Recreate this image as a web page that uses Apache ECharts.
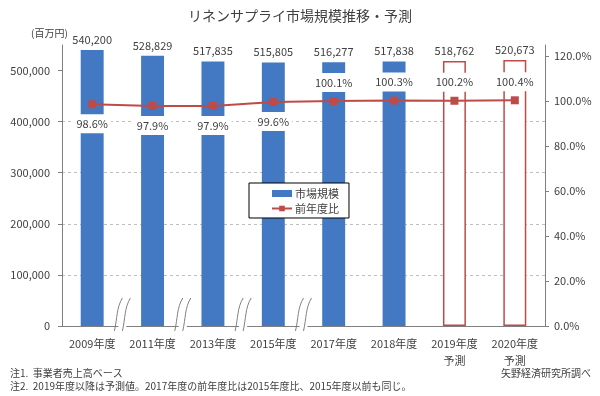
<!DOCTYPE html>
<html>
<head>
<meta charset="utf-8">
<script src="https://cdn.jsdelivr.net/npm/echarts@6/dist/echarts.min.js"></script>
<style>
  html, body { margin: 0; padding: 0; background: #fff; }
  #main { width: 600px; height: 396px; }
</style>
</head>
<body>
<div id="main"></div>
<script>
// 年度
var categories = ['2009年度', '2011年度', '2013年度', '2015年度', '2017年度', '2018年度', '2019年度\n予測', '2020年度\n予測'];
// 市場規模（百万円）
var marketSize = [540200, 528829, 517835, 515805, 516277, 517838, 518762, 520673];
// 前年度比（%）
var yoyRatio = [98.6, 97.9, 97.9, 99.6, 100.1, 100.3, 100.2, 100.4];
var forecastStart = 6;            // 2019年度以降は予測値
var breakAfter = [0, 1, 2, 3];    // 省略記号を入れる位置
var leftTicks = [0, 100000, 200000, 300000, 400000, 500000];
var rightTicks = [0, 20, 40, 60, 80, 100, 120];

var blue = '#4279c2';
var red = '#be4b48';
var txt = '#404040';
var font = '"Noto Sans CJK JP", "Noto Sans", sans-serif';

var myChart = echarts.init(document.getElementById('main'));

myChart.setOption({
    animation: false,
    textStyle: { fontFamily: font },
    title: {
        text: 'リネンサプライ市場規模推移・予測',
        left: 'center',
        top: 4,
        textStyle: { fontSize: 14, fontWeight: 'normal', color: txt, fontFamily: font }
    },
    legend: {
        orient: 'vertical',
        left: 249,
        top: 183,
        width: 97,
        padding: [5, 10, 4, 22],
        itemGap: 4,
        itemWidth: 20,
        itemHeight: 7,
        borderColor: '#000',
        borderWidth: 1,
        backgroundColor: '#fff',
        textStyle: { fontSize: 11, color: txt, padding: [0, 0, 0, -2] },
        data: [
            { name: '市場規模', icon: 'rect' },
            { name: '前年度比' }
        ]
    },
    grid: { left: 62, right: 55, top: 45, bottom: 70 },
    xAxis: {
        type: 'category',
        data: categories,
        axisLine: { lineStyle: { color: '#7f7f7f' } },
        axisTick: { inside: true, length: 4, lineStyle: { color: '#7f7f7f' } },
        axisLabel: { color: txt, fontSize: 11, margin: 9, lineHeight: 17 }
    },
    yAxis: [{
        type: 'value',
        min: 0,
        max: 550000,
        interval: 100000,
        axisLine: { show: true, lineStyle: { color: '#7f7f7f' } },
        axisTick: { show: true, length: 4, customValues: leftTicks, lineStyle: { color: '#7f7f7f' } },
        axisLabel: {
            color: txt, fontSize: 11, margin: 12, customValues: leftTicks,
            formatter: function (v) { return v.toLocaleString('en-US'); }
        },
        splitLine: { showMaxLine: false, lineStyle: { color: '#bfbfbf', type: [3, 3] } }
    }, {
        type: 'value',
        min: 0,
        max: 125,
        interval: 20,
        axisLine: { show: true, lineStyle: { color: '#7f7f7f' } },
        axisTick: { show: true, length: 4, customValues: rightTicks, lineStyle: { color: '#7f7f7f' } },
        axisLabel: {
            color: txt, fontSize: 11, margin: 9, customValues: rightTicks,
            formatter: function (v) { return v.toFixed(1) + '%'; }
        },
        splitLine: { show: false }
    }],
    series: [{
        name: '市場規模',
        type: 'bar',
        barWidth: '38%',
        itemStyle: { color: blue },
        label: {
            show: true,
            position: 'top',
            distance: 5,
            fontSize: 11,
            color: txt,
            formatter: function (p) { return p.value.toLocaleString('en-US'); }
        },
        data: marketSize.map(function (v, i) {
            if (i < forecastStart) return v;
            return { value: v, itemStyle: { color: '#fff', borderColor: red, borderWidth: 1.5 } };
        })
    }, {
        name: '前年度比',
        type: 'line',
        yAxisIndex: 1,
        z: 5,
        symbol: 'rect',
        symbolSize: 8,
        lineStyle: { color: red, width: 2 },
        itemStyle: { color: red },
        label: {
            show: true,
            fontSize: 11,
            color: txt,
            backgroundColor: '#fff',
            padding: [4, 3],
            formatter: function (p) { return p.value.toFixed(1) + '%'; }
        },
        data: yoyRatio.map(function (v) {
            return { value: v, label: { position: v < 100 ? 'bottom' : 'top', distance: v < 100 ? 6 : 5 } };
        })
    }]
});

// 注記
var graphics = [{
    type: 'text', id: 'unit', left: 31, top: 28,
    style: { text: '(百万円)', fontSize: 10, fill: txt, fontFamily: font }
}, {
    type: 'text', id: 'note1', left: 10, top: 368,
    style: { text: '注1.  事業者売上高ベース', fontSize: 10, fill: txt, fontFamily: font }
}, {
    type: 'text', id: 'note2', left: 10, top: 381,
    style: { text: '注2.  2019年度以降は予測値。2017年度の前年度比は2015年度比、2015年度以前も同じ。', fontSize: 10, fill: txt, fontFamily: font }
}, {
    type: 'text', id: 'source', right: 9, top: 368,
    style: { text: '矢野経済研究所調べ', fontSize: 10, fill: txt, fontFamily: font }
}];

// 省略（波線）マーク
var baseY = myChart.convertToPixel({ yAxisIndex: 0 }, 0);
breakAfter.forEach(function (i) {
    var x0 = myChart.convertToPixel({ xAxisIndex: 0 }, i);
    var x1 = myChart.convertToPixel({ xAxisIndex: 0 }, i + 1);
    var cx = (x0 + x1) / 2;
    graphics.push({
        type: 'rect', id: 'gap' + i, z: 100,
        shape: { x: cx - 4, y: baseY - 2, width: 8, height: 4 },
        style: { fill: '#fff' }
    });
    [-4, 4].forEach(function (dx, k) {
        var x = cx + dx;
        graphics.push({
            type: 'bezierCurve', id: 'wave' + i + '_' + k, z: 101,
            shape: {
                x1: x - 4, y1: baseY + 5,
                cpx1: x - 1, cpy1: baseY - 8,
                cpx2: x - 2, cpy2: baseY - 18,
                x2: x + 4, y2: baseY - 28
            },
            style: { stroke: '#808080', lineWidth: 1, fill: null }
        });
    });
});
myChart.setOption({ graphic: graphics });
</script>
</body>
</html>
